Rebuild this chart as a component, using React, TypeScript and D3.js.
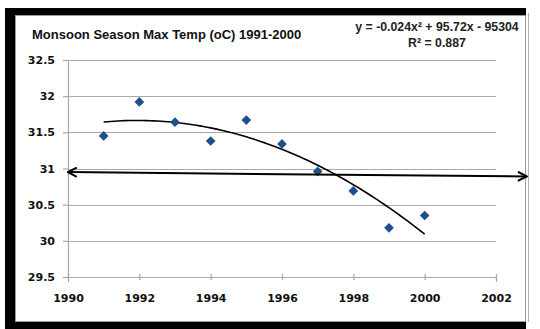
import { useEffect, useRef } from "react";
import * as d3 from "d3";

const years = [1991, 1992, 1993, 1994, 1995, 1996, 1997, 1998, 1999, 2000];
const maxTemp = [31.45, 31.92, 31.64, 31.38, 31.67, 31.34, 30.96, 30.69, 30.18, 30.35];
const yTicks = [29.5, 30, 30.5, 31, 31.5, 32, 32.5];
const xTicks = [1990, 1992, 1994, 1996, 1998, 2000, 2002];
// hand-drawn arrow over the chart, in data units
const arrowX = [1990, 2002.86];
const arrowY = [30.95, 30.89];
const equation = "y = -0.024x² + 95.72x - 95304";
const rSquared = "R² = 0.887";

const W = 540;
const H = 329;

// quadratic least squares on centred years
function fitQuad(xs: number[], ys: number[]) {
  const mx = d3.mean(xs)!;
  const t = xs.map((x) => x - mx);
  const s = (p: number) => d3.sum(t, (v) => Math.pow(v, p));
  const sy = (p: number) => d3.sum(t, (v, i) => Math.pow(v, p) * ys[i]);
  const A = [
    [s(4), s(3), s(2)],
    [s(3), s(2), s(1)],
    [s(2), s(1), t.length],
  ];
  const b = [sy(2), sy(1), sy(0)];
  // gaussian elimination
  for (let i = 0; i < 3; i++) {
    for (let j = i + 1; j < 3; j++) {
      const f = A[j][i] / A[i][i];
      for (let k = i; k < 3; k++) A[j][k] -= f * A[i][k];
      b[j] -= f * b[i];
    }
  }
  const c = [0, 0, 0];
  for (let i = 2; i >= 0; i--) {
    let v = b[i];
    for (let k = i + 1; k < 3; k++) v -= A[i][k] * c[k];
    c[i] = v / A[i][i];
  }
  return (x: number) => {
    const u = x - mx;
    return c[0] * u * u + c[1] * u + c[2];
  };
}

export default function App() {
  const svgRef = useRef<SVGSVGElement>(null);

  useEffect(() => {
    if (!svgRef.current) return;
    const svg = d3.select(svgRef.current);
    svg.selectAll("*").remove();

    // frame
    svg.append("rect").attr("x", 5).attr("y", 8).attr("width", 521).attr("height", 330).attr("fill", "#000");
    svg
      .append("rect")
      .attr("x", 15.5)
      .attr("y", 15.5)
      .attr("width", 510)
      .attr("height", 306)
      .attr("fill", "#fff")
      .attr("stroke", "#9a9a9a")
      .attr("stroke-width", 1);
    svg.append("line").attr("x1", 528.5).attr("x2", 528.5).attr("y1", 13).attr("y2", 322).attr("stroke", "#b0b0b0");

    const x = d3.scaleLinear().domain([1990, 2002]).range([68, 496]);
    const y = d3.scaleLinear().domain([29.5, 32.5]).range([277, 60]);

    const defs = svg.append("defs");
    defs
      .append("marker")
      .attr("id", "chev")
      .attr("viewBox", "0 0 10 10")
      .attr("refX", 9)
      .attr("refY", 5)
      .attr("markerWidth", 11)
      .attr("markerHeight", 11)
      .attr("markerUnits", "userSpaceOnUse")
      .attr("orient", "auto-start-reverse")
      .append("path")
      .attr("d", "M1,0.8 L9,5 L1,9.2")
      .attr("fill", "none")
      .attr("stroke", "#000")
      .attr("stroke-width", 1.8);

    // gridlines
    svg
      .append("g")
      .selectAll("line")
      .data(yTicks.filter((d) => d > 29.5))
      .join("line")
      .attr("x1", x(1990))
      .attr("x2", x(2002))
      .attr("y1", (d) => Math.round(y(d)) + 0.5)
      .attr("y2", (d) => Math.round(y(d)) + 0.5)
      .attr("stroke", "#a8a8a8")
      .attr("stroke-width", 1.2);

    // axes
    const yAxis = svg
      .append("g")
      .attr("transform", `translate(${x(1990)},0)`)
      .call(d3.axisLeft(y).tickValues(yTicks).tickSize(5).tickFormat((d) => String(d)));
    const xAxis = svg
      .append("g")
      .attr("transform", `translate(0,${y(29.5)})`)
      .call(d3.axisBottom(x).tickValues(xTicks).tickSize(5).tickFormat((d) => String(d)));
    [yAxis, xAxis].forEach((g) => {
      g.select(".domain").attr("stroke", "#a8a8a8").attr("stroke-width", 1.2);
      g.selectAll(".tick line").attr("stroke", "#a8a8a8").attr("stroke-width", 1.2);
      g.selectAll("text")
        .attr("fill", "#111")
        .attr("font-family", "DejaVu Sans")
        .attr("font-weight", "bold")
        .attr("font-size", 11);
    });
    yAxis.selectAll("text").attr("x", -13);
    xAxis.selectAll(".tick line").attr("y1", -3).attr("y2", 3);
    xAxis.selectAll("text").attr("y", 17);

    // trend
    const f = fitQuad(years, maxTemp);
    const samples = d3.range(years[0], years[years.length - 1] + 0.001, 0.1);
    svg
      .append("path")
      .attr(
        "d",
        d3
          .line<number>()
          .x((d) => x(d))
          .y((d) => y(f(d)))(samples)
      )
      .attr("fill", "none")
      .attr("stroke", "#000")
      .attr("stroke-width", 1.6);

    // points
    svg
      .append("g")
      .selectAll("path")
      .data(years)
      .join("path")
      .attr("transform", (d, i) => `translate(${x(d)},${y(maxTemp[i])})`)
      .attr("d", d3.symbol(d3.symbolDiamond2, 60)())
      .attr("fill", "#1f4e8c");

    // arrow
    svg
      .append("line")
      .attr("x1", x(arrowX[0]))
      .attr("y1", y(arrowY[0]))
      .attr("x2", x(arrowX[1]))
      .attr("y2", y(arrowY[1]))
      .attr("stroke", "#000")
      .attr("stroke-width", 2)
      .attr("marker-start", "url(#chev)")
      .attr("marker-end", "url(#chev)");

    // titles
    svg
      .append("text")
      .attr("x", 32)
      .attr("y", 39)
      .attr("font-family", "Liberation Sans, Arial, sans-serif")
      .attr("font-weight", "bold")
      .attr("font-size", 13)
      .attr("fill", "#111")
      .text("Monsoon Season Max Temp (oC) 1991-2000");
    svg
      .append("text")
      .attr("x", 437)
      .attr("y", 31)
      .attr("text-anchor", "middle")
      .attr("font-family", "Liberation Sans, Arial, sans-serif")
      .attr("font-weight", "bold")
      .attr("font-size", 12.3)
      .attr("fill", "#222")
      .text(equation);
    svg
      .append("text")
      .attr("x", 437)
      .attr("y", 47)
      .attr("text-anchor", "middle")
      .attr("font-family", "Liberation Sans, Arial, sans-serif")
      .attr("font-weight", "bold")
      .attr("font-size", 12.3)
      .attr("fill", "#222")
      .text(rSquared);
  }, []);

  return (
    <svg
      ref={svgRef}
      width={W}
      height={H}
      style={{ position: "absolute", left: 0, top: 0, background: "#fff" }}
    />
  );
}
